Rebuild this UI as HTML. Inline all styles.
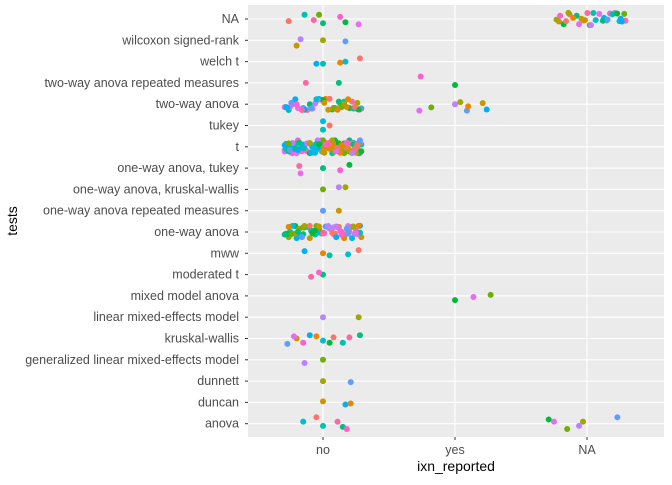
<!DOCTYPE html>
<html><head><meta charset="utf-8"><style>
body{margin:0;background:#fff}
svg text{font-family:"Liberation Sans",sans-serif}
</style></head><body>
<svg id="chart" width="672" height="480" xmlns="http://www.w3.org/2000/svg">
<rect width="672" height="480" fill="#fff"/>
<rect x="248" y="5" width="416" height="432" fill="#EBEBEB"/>
<g id="grid"></g><g id="ylab"></g><g id="xlab"></g><g id="pts"></g>
<text x="456" y="471" font-size="14" text-anchor="middle" fill="#000">ixn_reported</text>
<text transform="translate(17,221) rotate(-90)" font-size="14" text-anchor="middle" fill="#000">tests</text>
</svg>
<script>
const categories=["no","yes","NA"];
const tests=["NA","wilcoxon signed-rank","welch t","two-way anova repeated measures","two-way anova","tukey","t","one-way anova, tukey","one-way anova, kruskal-wallis","one-way anova repeated measures","one-way anova","mww","moderated t","mixed model anova","linear mixed-effects model","kruskal-wallis","generalized linear mixed-effects model","dunnett","duncan","anova"];
// explicit points: [xCategory, rowIndex, xJitter, yJitter]
const points=[
[0,0,-0.26,0.1],[0,0,-0.14,-0.2],[0,0,-0.07,0.05],[0,0,0,0.2],[0,0,0.13,-0.1],[0,0,0.17,0.15],[0,0,0.27,0.25],[0,0,-0.03,-0.2],
[0,1,-0.17,-0.05],[0,1,0,0],[0,1,0.17,0.05],[0,1,-0.2,0.25],
[0,2,-0.05,0.1],[0,2,0.13,0.05],[0,2,0.17,0],[0,2,0.28,-0.15],[0,2,0,0.1],
[0,3,-0.13,0],[0,3,0.12,0],[1,3,-0.26,-0.3],[1,3,0,0.1],
[1,4,-0.27,0.3],[1,4,-0.18,0.15],[1,4,0,0],[1,4,0.04,-0.1],[1,4,0.09,0.3],[1,4,0.21,-0.05],[1,4,0.24,0.25],[1,4,0.1,0.1],
[0,5,0,-0.2],[0,5,0.05,0],[0,5,0,0.2],
[0,7,-0.18,-0.1],[0,7,0,0],[0,7,0.13,0.1],[0,7,0.2,-0.15],[0,7,-0.17,0.25],
[0,8,0,0],[0,8,0.12,-0.1],[0,8,0.17,-0.1],
[0,9,0,0],[0,9,0.12,0],
[0,11,-0.14,-0.1],[0,11,0,0],[0,11,0.19,0.05],[0,11,0.27,-0.15],[0,11,0.05,0.1],
[0,12,-0.09,0.1],[0,12,0,0],[0,12,-0.03,-0.1],
[1,13,0,0.2],[1,13,0.14,0.05],[1,13,0.27,-0.05],
[0,14,0,0],[0,14,0.27,0],
[0,15,-0.27,0.25],[0,15,-0.2,0],[0,15,-0.1,-0.15],[0,15,-0.05,-0.1],[0,15,0,0.1],[0,15,0.08,-0.05],[0,15,0.15,0.2],[0,15,0.2,-0.05],[0,15,0.28,-0.15],[0,15,-0.15,0.2],[0,15,0.05,0.2],[0,15,-0.22,-0.1],
[0,16,0,0],[0,16,-0.14,0.15],
[0,17,0,0],[0,17,0.21,0.05],
[0,18,0,-0.05],[0,18,0.17,0.1],[0,18,0.21,0.05],
[0,19,-0.15,-0.1],[0,19,-0.05,-0.3],[0,19,0,0.1],[0,19,0.11,-0.1],[0,19,0.15,0.15],[0,19,0.18,0.25],
[2,19,-0.29,-0.2],[2,19,-0.25,-0.1],[2,19,-0.15,0.25],[2,19,-0.06,0.1],[2,19,-0.03,-0.1],[2,19,0.23,-0.3]
];
// dense clusters: [xCategory, rowIndex, count]
const clusters=[[2,0,32],[0,4,48],[0,6,120],[0,10,70]];
const jitX=[-0.27,0.11,-0.05,0.24,-0.18,0.02,0.29,-0.12,0.16,-0.23,0.07,-0.01,0.2,-0.29,0.13,-0.08,0.26,-0.15,0.04,-0.21,0.18,-0.03,0.1,-0.26,0.22,-0.1,0.28,0.0,-0.19,0.14,-0.06,0.25,-0.24,0.08,-0.14,0.19,-0.28,0.05,0.23,-0.16,0.12,-0.2,0.27,-0.04,0.09,-0.25,0.16,-0.09,0.01];
const jitY=[0.12,-0.25,0.3,-0.05,0.2,-0.18,0.05,0.27,-0.3,0.1,-0.12,0.22,-0.22,0.0,0.15,-0.28,0.25,-0.08,0.08,-0.2,0.28,-0.15,0.18,0.02,-0.26,0.14,-0.1,0.24,-0.03,0.06,-0.24,0.2,-0.14,0.29,-0.06,0.1,-0.29,0.17,-0.19,0.03,0.26,-0.11,0.07,-0.23,0.21,-0.01,0.13,-0.16];
const palette=["#F8766D","#E58700","#C99800","#A3A500","#6BB100","#00BA38","#00BF7D","#00C0AF","#00BCD8","#00B0F6","#619CFF","#B983FF","#E76BF3","#FD61D1","#FF67A4"];
const NS="http://www.w3.org/2000/svg";
const xS=v=>323+v*132, yS=r=>19+r*21.3;
function mk(t,a,p){const e=document.createElementNS(NS,t);for(const k in a)e.setAttribute(k,a[k]);p.appendChild(e);return e;}
const grid=document.getElementById('grid'),yl=document.getElementById('ylab'),xl=document.getElementById('xlab'),pg=document.getElementById('pts');
tests.forEach((t,i)=>{
 const l=mk('line',{x1:248,x2:664,y1:yS(i),y2:yS(i),stroke:'#fff','stroke-width':1.1},grid);
 
 
 const tk=mk('line',{x1:245,x2:248,y1:yS(i),y2:yS(i),stroke:'#333','stroke-width':1},yl);
 
 
 const tx=mk('text',{x:239,y:yS(i)+4,'font-size':12.5,'text-anchor':'end',fill:'#4D4D4D'},yl);
 tx.textContent=t;
 
 
});
categories.forEach((c,i)=>{
 const l=mk('line',{x1:xS(i),x2:xS(i),y1:5,y2:437,stroke:'#fff','stroke-width':1.1},grid);
 
 
 const tk=mk('line',{x1:xS(i),x2:xS(i),y1:437,y2:440,stroke:'#333'},xl);
 
 
 const tx=mk('text',{x:xS(i),y:454,'font-size':12.5,'text-anchor':'middle',fill:'#4D4D4D'},xl);
 tx.textContent=c;
 
 
});
let ci=0;
function dot(xc,r,dx,dy){
 const c=mk('circle',{cx:xS(xc+dx),cy:yS(r+dy),r:3,fill:palette[(ci*7)%palette.length]},pg);
 
 
 ci++;
}
points.forEach(p=>dot(p[0],p[1],p[2],p[3]));
clusters.forEach((cl,k)=>{
 for(let j=0;j<cl[2];j++){
  let dx=jitX[(j+k*5)%jitX.length], dy=jitY[(j*3+k)%jitY.length];
  if(cl[0]===2){dx=dx*0.9+0.03;}
  dot(cl[0],cl[1],dx,dy);
 }
});
</script>
</body></html>
